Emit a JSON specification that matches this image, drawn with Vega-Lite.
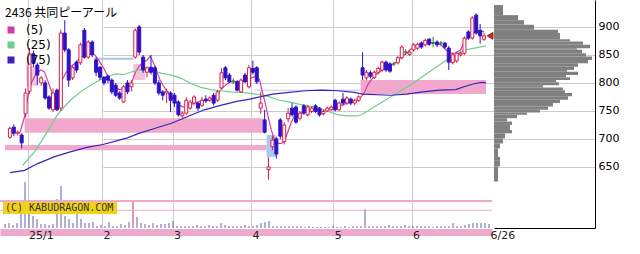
{
  "$schema": "https://vega.github.io/schema/vega-lite/v6.json",
  "width": 595,
  "height": 228,
  "autosize": {"type": "none"},
  "padding": {"left": 0, "top": 0, "right": 45, "bottom": 26},
  "background": "#ffffff",
  "config": {
    "view": {"stroke": null},
    "axis": {"labelFont": "DejaVu Sans", "labelFontSize": 11, "labelColor": "#222222"},
    "legend": {
      "orient": "none", "legendX": 5, "legendY": 8, "padding": 0,
      "titleFont": "Noto Sans CJK JP", "titleFontSize": 12, "titleFontWeight": "normal", "titleColor": "#000000", "titlePadding": 4,
      "labelFont": "DejaVu Sans", "labelFontSize": 12, "labelColor": "#000000", "labelOffset": 9,
      "symbolType": "square", "symbolSize": 49, "rowPadding": 3, "symbolStrokeWidth": 0
    }
  },
  "datasets": {
    "k": [
      {"i":0,"o":703,"h":722,"l":700,"c":719,"v":80},
      {"i":1,"o":721,"h":726,"l":705,"c":710,"v":100},
      {"i":2,"o":710,"h":715,"l":706,"c":712,"v":60},
      {"i":3,"o":707,"h":710,"l":683,"c":693,"v":100},
      {"i":4,"o":745,"h":790,"l":738,"c":782,"v":280},
      {"i":5,"o":785,"h":862,"l":780,"c":852,"v":920},
      {"i":6,"o":852,"h":858,"l":828,"c":835,"v":280},
      {"i":7,"o":832,"h":836,"l":796,"c":814,"v":240},
      {"i":8,"o":800,"h":812,"l":795,"c":809,"v":180},
      {"i":9,"o":800,"h":805,"l":770,"c":773,"v":80},
      {"i":10,"o":775,"h":778,"l":752,"c":755,"v":80},
      {"i":11,"o":752,"h":790,"l":748,"c":782,"v":60},
      {"i":12,"o":787,"h":790,"l":750,"c":752,"v":80},
      {"i":13,"o":755,"h":895,"l":750,"c":889,"v":580},
      {"i":14,"o":889,"h":912,"l":855,"c":859,"v":840},
      {"i":15,"o":859,"h":862,"l":793,"c":805,"v":240},
      {"i":16,"o":809,"h":832,"l":805,"c":827,"v":180},
      {"i":17,"o":837,"h":840,"l":818,"c":823,"v":100},
      {"i":18,"o":836,"h":872,"l":832,"c":868,"v":280},
      {"i":19,"o":894,"h":898,"l":843,"c":846,"v":180},
      {"i":20,"o":846,"h":876,"l":843,"c":873,"v":100},
      {"i":21,"o":873,"h":876,"l":846,"c":850,"v":100},
      {"i":22,"o":841,"h":846,"l":812,"c":819,"v":120},
      {"i":23,"o":828,"h":830,"l":805,"c":810,"v":40},
      {"i":24,"o":810,"h":812,"l":796,"c":800,"v":60},
      {"i":25,"o":812,"h":815,"l":800,"c":805,"v":40},
      {"i":26,"o":805,"h":808,"l":780,"c":784,"v":120},
      {"i":27,"o":796,"h":800,"l":775,"c":778,"v":40},
      {"i":28,"o":782,"h":785,"l":770,"c":773,"v":40},
      {"i":29,"o":766,"h":796,"l":764,"c":793,"v":80},
      {"i":30,"o":800,"h":805,"l":780,"c":784,"v":60},
      {"i":31,"o":793,"h":805,"l":785,"c":800,"v":120},
      {"i":32,"o":846,"h":897,"l":843,"c":894,"v":520},
      {"i":33,"o":900,"h":903,"l":850,"c":855,"v":220},
      {"i":34,"o":846,"h":850,"l":818,"c":823,"v":100},
      {"i":35,"o":819,"h":830,"l":810,"c":827,"v":80},
      {"i":36,"o":828,"h":850,"l":815,"c":819,"v":60},
      {"i":37,"o":827,"h":830,"l":796,"c":800,"v":100},
      {"i":38,"o":800,"h":805,"l":778,"c":782,"v":60},
      {"i":39,"o":784,"h":787,"l":769,"c":778,"v":80},
      {"i":40,"o":782,"h":790,"l":764,"c":785,"v":80},
      {"i":41,"o":782,"h":785,"l":748,"c":769,"v":100},
      {"i":42,"o":778,"h":782,"l":757,"c":764,"v":140},
      {"i":43,"o":766,"h":769,"l":740,"c":743,"v":40},
      {"i":44,"o":741,"h":749,"l":735,"c":746,"v":40},
      {"i":45,"o":746,"h":775,"l":743,"c":769,"v":40},
      {"i":46,"o":755,"h":770,"l":752,"c":766,"v":40},
      {"i":47,"o":764,"h":778,"l":760,"c":775,"v":40},
      {"i":48,"o":764,"h":766,"l":750,"c":755,"v":60},
      {"i":49,"o":760,"h":775,"l":757,"c":769,"v":40},
      {"i":50,"o":771,"h":778,"l":764,"c":768,"v":40},
      {"i":51,"o":769,"h":776,"l":766,"c":773,"v":60},
      {"i":52,"o":778,"h":782,"l":760,"c":764,"v":40},
      {"i":53,"o":769,"h":787,"l":766,"c":784,"v":40},
      {"i":54,"o":791,"h":826,"l":789,"c":818,"v":100},
      {"i":55,"o":827,"h":830,"l":805,"c":809,"v":60},
      {"i":56,"o":814,"h":818,"l":800,"c":802,"v":40},
      {"i":57,"o":803,"h":808,"l":798,"c":803,"v":40},
      {"i":58,"o":802,"h":805,"l":785,"c":787,"v":40},
      {"i":59,"o":784,"h":808,"l":782,"c":805,"v":40},
      {"i":60,"o":814,"h":818,"l":800,"c":802,"v":60},
      {"i":61,"o":793,"h":832,"l":790,"c":827,"v":40},
      {"i":62,"o":826,"h":840,"l":815,"c":819,"v":40},
      {"i":63,"o":827,"h":830,"l":798,"c":802,"v":60},
      {"i":64,"o":755,"h":784,"l":745,"c":764,"v":100},
      {"i":65,"o":734,"h":752,"l":710,"c":712,"v":120},
      {"i":66,"o":645,"h":668,"l":627,"c":650,"v":140},
      {"i":67,"o":686,"h":705,"l":680,"c":698,"v":40},
      {"i":68,"o":700,"h":703,"l":665,"c":673,"v":40},
      {"i":69,"o":734,"h":737,"l":700,"c":705,"v":40},
      {"i":70,"o":695,"h":730,"l":690,"c":725,"v":40},
      {"i":71,"o":736,"h":755,"l":730,"c":746,"v":40},
      {"i":72,"o":755,"h":764,"l":740,"c":743,"v":40},
      {"i":73,"o":757,"h":760,"l":727,"c":730,"v":40},
      {"i":74,"o":737,"h":750,"l":733,"c":746,"v":40},
      {"i":75,"o":759,"h":762,"l":743,"c":746,"v":20},
      {"i":76,"o":743,"h":760,"l":740,"c":757,"v":40},
      {"i":77,"o":749,"h":758,"l":746,"c":755,"v":20},
      {"i":78,"o":759,"h":762,"l":746,"c":749,"v":20},
      {"i":79,"o":755,"h":757,"l":740,"c":743,"v":20},
      {"i":80,"o":745,"h":752,"l":742,"c":749,"v":20},
      {"i":81,"o":750,"h":758,"l":748,"c":755,"v":20},
      {"i":82,"o":752,"h":760,"l":750,"c":757,"v":40},
      {"i":83,"o":769,"h":772,"l":749,"c":752,"v":20},
      {"i":84,"o":752,"h":767,"l":750,"c":764,"v":20},
      {"i":85,"o":771,"h":782,"l":760,"c":764,"v":40},
      {"i":86,"o":764,"h":776,"l":761,"c":773,"v":20},
      {"i":87,"o":771,"h":774,"l":760,"c":764,"v":40},
      {"i":88,"o":764,"h":772,"l":760,"c":769,"v":40},
      {"i":89,"o":769,"h":778,"l":766,"c":775,"v":40},
      {"i":90,"o":827,"h":855,"l":805,"c":814,"v":380},
      {"i":91,"o":809,"h":823,"l":805,"c":819,"v":40},
      {"i":92,"o":818,"h":822,"l":808,"c":812,"v":40},
      {"i":93,"o":810,"h":822,"l":807,"c":819,"v":40},
      {"i":94,"o":819,"h":829,"l":815,"c":826,"v":40},
      {"i":95,"o":823,"h":840,"l":820,"c":837,"v":40},
      {"i":96,"o":837,"h":840,"l":820,"c":823,"v":60},
      {"i":97,"o":834,"h":837,"l":818,"c":821,"v":40},
      {"i":98,"o":834,"h":838,"l":830,"c":834,"v":40},
      {"i":99,"o":836,"h":848,"l":833,"c":845,"v":40},
      {"i":100,"o":845,"h":867,"l":842,"c":864,"v":60},
      {"i":101,"o":855,"h":860,"l":850,"c":855,"v":40},
      {"i":102,"o":851,"h":858,"l":848,"c":855,"v":40},
      {"i":103,"o":859,"h":871,"l":856,"c":868,"v":40},
      {"i":104,"o":862,"h":872,"l":859,"c":869,"v":40},
      {"i":105,"o":871,"h":874,"l":861,"c":864,"v":40},
      {"i":106,"o":868,"h":879,"l":865,"c":876,"v":40},
      {"i":107,"o":878,"h":880,"l":866,"c":869,"v":20},
      {"i":108,"o":871,"h":882,"l":864,"c":871,"v":40},
      {"i":109,"o":873,"h":876,"l":864,"c":868,"v":40},
      {"i":110,"o":871,"h":875,"l":866,"c":871,"v":40},
      {"i":111,"o":871,"h":873,"l":861,"c":864,"v":40},
      {"i":112,"o":862,"h":866,"l":823,"c":837,"v":100},
      {"i":113,"o":836,"h":853,"l":833,"c":850,"v":40},
      {"i":114,"o":839,"h":856,"l":836,"c":853,"v":40},
      {"i":115,"o":850,"h":856,"l":847,"c":853,"v":60},
      {"i":116,"o":853,"h":883,"l":850,"c":880,"v":80},
      {"i":117,"o":891,"h":894,"l":877,"c":880,"v":100},
      {"i":118,"o":880,"h":919,"l":877,"c":916,"v":100},
      {"i":119,"o":921,"h":924,"l":886,"c":889,"v":100},
      {"i":120,"o":894,"h":905,"l":870,"c":884,"v":100},
      {"i":121,"o":878,"h":889,"l":875,"c":884,"v":80}
    ],
    "ma": [
      {"ma":"(5)","i":2.5,"v":710},{"ma":"(5)","i":3.75,"v":740},{"ma":"(5)","i":4.6,"v":775},{"ma":"(5)","i":5.4,"v":799},{"ma":"(5)","i":6.7,"v":817},{"ma":"(5)","i":7.9,"v":823},{"ma":"(5)","i":8.75,"v":820},{"ma":"(5)","i":9.6,"v":805},{"ma":"(5)","i":10.8,"v":781},{"ma":"(5)","i":11.7,"v":775},{"ma":"(5)","i":12.5,"v":787},{"ma":"(5)","i":13.3,"v":805},{"ma":"(5)","i":14.2,"v":817},{"ma":"(5)","i":15.4,"v":829},{"ma":"(5)","i":16.7,"v":835},{"ma":"(5)","i":17.9,"v":844},{"ma":"(5)","i":19.2,"v":850},{"ma":"(5)","i":20.4,"v":853},{"ma":"(5)","i":21.7,"v":850},{"ma":"(5)","i":22.9,"v":838},{"ma":"(5)","i":24.2,"v":823},{"ma":"(5)","i":25.4,"v":805},{"ma":"(5)","i":26.7,"v":793},{"ma":"(5)","i":27.9,"v":788},{"ma":"(5)","i":29.2,"v":790},{"ma":"(5)","i":30.8,"v":796},{"ma":"(5)","i":32.1,"v":820},{"ma":"(5)","i":32.9,"v":829},{"ma":"(5)","i":33.75,"v":835},{"ma":"(5)","i":35,"v":841},{"ma":"(5)","i":35.8,"v":848},{"ma":"(5)","i":37.1,"v":829},{"ma":"(5)","i":38.3,"v":805},{"ma":"(5)","i":39.6,"v":790},{"ma":"(5)","i":40.8,"v":778},{"ma":"(5)","i":42.1,"v":769},{"ma":"(5)","i":43.3,"v":760},{"ma":"(5)","i":44.2,"v":757},{"ma":"(5)","i":45.4,"v":760},{"ma":"(5)","i":46.7,"v":763},{"ma":"(5)","i":47.9,"v":766},{"ma":"(5)","i":49.2,"v":769},{"ma":"(5)","i":50.4,"v":769},{"ma":"(5)","i":51.75,"v":772},{"ma":"(5)","i":53,"v":778},{"ma":"(5)","i":53.75,"v":787},{"ma":"(5)","i":55,"v":796},{"ma":"(5)","i":56.25,"v":802},{"ma":"(5)","i":57.5,"v":802},{"ma":"(5)","i":58.75,"v":803},{"ma":"(5)","i":60,"v":805},{"ma":"(5)","i":61.25,"v":808},{"ma":"(5)","i":62.9,"v":812},{"ma":"(5)","i":63.75,"v":805},{"ma":"(5)","i":64.2,"v":790},{"ma":"(5)","i":65,"v":769},{"ma":"(5)","i":65.8,"v":743},{"ma":"(5)","i":66.7,"v":716},{"ma":"(5)","i":67.5,"v":698},{"ma":"(5)","i":68.3,"v":692},{"ma":"(5)","i":69.2,"v":692},{"ma":"(5)","i":70,"v":695},{"ma":"(5)","i":70.8,"v":710},{"ma":"(5)","i":71.7,"v":728},{"ma":"(5)","i":72.5,"v":740},{"ma":"(5)","i":73.3,"v":743},{"ma":"(5)","i":74.6,"v":747},{"ma":"(5)","i":75.8,"v":752},{"ma":"(5)","i":77.1,"v":752},{"ma":"(5)","i":78.3,"v":752},{"ma":"(5)","i":79.6,"v":749},{"ma":"(5)","i":80.8,"v":752},{"ma":"(5)","i":82.1,"v":755},{"ma":"(5)","i":83.3,"v":758},{"ma":"(5)","i":84.6,"v":760},{"ma":"(5)","i":85.8,"v":763},{"ma":"(5)","i":87.1,"v":766},{"ma":"(5)","i":88.3,"v":768},{"ma":"(5)","i":89.6,"v":775},{"ma":"(5)","i":90.4,"v":782},{"ma":"(5)","i":91.25,"v":796},{"ma":"(5)","i":92.5,"v":808},{"ma":"(5)","i":93.75,"v":817},{"ma":"(5)","i":95,"v":823},{"ma":"(5)","i":96.25,"v":829},{"ma":"(5)","i":97.5,"v":832},{"ma":"(5)","i":98.75,"v":838},{"ma":"(5)","i":100,"v":847},{"ma":"(5)","i":101.25,"v":853},{"ma":"(5)","i":102.5,"v":862},{"ma":"(5)","i":103.75,"v":866},{"ma":"(5)","i":105,"v":871},{"ma":"(5)","i":106.25,"v":872},{"ma":"(5)","i":107.5,"v":872},{"ma":"(5)","i":108.75,"v":871},{"ma":"(5)","i":110,"v":868},{"ma":"(5)","i":111.25,"v":859},{"ma":"(5)","i":112.5,"v":853},{"ma":"(5)","i":113.75,"v":853},{"ma":"(5)","i":115,"v":859},{"ma":"(5)","i":116.25,"v":877},{"ma":"(5)","i":117.5,"v":886},{"ma":"(5)","i":118.75,"v":891},{"ma":"(5)","i":120,"v":893},{"ma":"(5)","i":121,"v":891},
      {"ma":"(25)","i":3.3,"v":653},{"ma":"(25)","i":6.25,"v":677},{"ma":"(25)","i":9.6,"v":713},{"ma":"(25)","i":12.1,"v":743},{"ma":"(25)","i":15.4,"v":769},{"ma":"(25)","i":18.75,"v":788},{"ma":"(25)","i":22.1,"v":802},{"ma":"(25)","i":24.6,"v":811},{"ma":"(25)","i":27.1,"v":816},{"ma":"(25)","i":29,"v":815},{"ma":"(25)","i":31.25,"v":820},{"ma":"(25)","i":33.75,"v":824},{"ma":"(25)","i":36.25,"v":822},{"ma":"(25)","i":38.75,"v":817},{"ma":"(25)","i":41.25,"v":814},{"ma":"(25)","i":43.75,"v":808},{"ma":"(25)","i":46.25,"v":799},{"ma":"(25)","i":48.75,"v":792},{"ma":"(25)","i":51.25,"v":788},{"ma":"(25)","i":53.75,"v":786},{"ma":"(25)","i":56.25,"v":784},{"ma":"(25)","i":58.75,"v":783},{"ma":"(25)","i":62,"v":781},{"ma":"(25)","i":64.6,"v":778},{"ma":"(25)","i":66.25,"v":775},{"ma":"(25)","i":68.75,"v":769},{"ma":"(25)","i":71.25,"v":766},{"ma":"(25)","i":73.75,"v":762},{"ma":"(25)","i":76.25,"v":759},{"ma":"(25)","i":78.75,"v":755},{"ma":"(25)","i":81.25,"v":749},{"ma":"(25)","i":83.75,"v":743},{"ma":"(25)","i":86.25,"v":741},{"ma":"(25)","i":88.75,"v":741},{"ma":"(25)","i":90,"v":744},{"ma":"(25)","i":92.9,"v":757},{"ma":"(25)","i":97.1,"v":775},{"ma":"(25)","i":102.1,"v":796},{"ma":"(25)","i":107.1,"v":820},{"ma":"(25)","i":112.1,"v":844},{"ma":"(25)","i":116.25,"v":859},{"ma":"(25)","i":121.5,"v":866},
      {"ma":"(75)","i":0,"v":640},{"ma":"(75)","i":3.75,"v":644},{"ma":"(75)","i":7.1,"v":656},{"ma":"(75)","i":11.25,"v":668},{"ma":"(75)","i":15.4,"v":677},{"ma":"(75)","i":19.6,"v":685},{"ma":"(75)","i":23.75,"v":690},{"ma":"(75)","i":27.9,"v":698},{"ma":"(75)","i":30,"v":702},{"ma":"(75)","i":32.9,"v":710},{"ma":"(75)","i":37.1,"v":719},{"ma":"(75)","i":41.25,"v":728},{"ma":"(75)","i":45.4,"v":740},{"ma":"(75)","i":49.6,"v":752},{"ma":"(75)","i":53.75,"v":760},{"ma":"(75)","i":57.9,"v":767},{"ma":"(75)","i":61.25,"v":771},{"ma":"(75)","i":63.75,"v":775},{"ma":"(75)","i":67.1,"v":780},{"ma":"(75)","i":71.25,"v":783},{"ma":"(75)","i":75.4,"v":786},{"ma":"(75)","i":79.6,"v":787},{"ma":"(75)","i":83.75,"v":786},{"ma":"(75)","i":87.9,"v":783},{"ma":"(75)","i":90,"v":780},{"ma":"(75)","i":97.1,"v":778},{"ma":"(75)","i":101.25,"v":780},{"ma":"(75)","i":105.4,"v":784},{"ma":"(75)","i":109.6,"v":787},{"ma":"(75)","i":113.75,"v":788},{"ma":"(75)","i":116.25,"v":794},{"ma":"(75)","i":118.75,"v":799},{"ma":"(75)","i":120.4,"v":801},{"ma":"(75)","i":121.5,"v":800}
    ],
    "zones": [
      {"x0":3.75,"x1":64.5,"p0":711,"p1":737,"k":"pink"},
      {"x0":-1.25,"x1":65.5,"p0":680,"p1":689,"k":"pink"},
      {"x0":89.5,"x1":121.5,"p0":780,"p1":805,"k":"pink"},
      {"x0":4.25,"x1":7,"p0":795,"p1":829,"k":"light"},
      {"x0":31.5,"x1":34.5,"p0":805,"p1":834,"k":"light"},
      {"x0":65.5,"x1":68,"p0":668,"p1":707,"k":"blue"}
    ],
    "prof": [
      {"lo":921,"hi":939,"len":9},{"lo":912,"hi":921,"len":24},{"lo":904,"hi":912,"len":30},{"lo":895,"hi":904,"len":40},
      {"lo":889,"hi":895,"len":64},{"lo":878,"hi":889,"len":66},{"lo":874,"hi":878,"len":76},{"lo":868,"hi":874,"len":89},
      {"lo":862,"hi":868,"len":96},{"lo":859,"hi":862,"len":83},{"lo":853,"hi":859,"len":88},{"lo":847,"hi":853,"len":92},
      {"lo":841,"hi":847,"len":98},{"lo":835,"hi":841,"len":94},{"lo":829,"hi":835,"len":84},{"lo":823,"hi":829,"len":80},
      {"lo":820,"hi":823,"len":73},{"lo":814,"hi":820,"len":84},{"lo":810,"hi":814,"len":72},{"lo":805,"hi":810,"len":76},
      {"lo":801,"hi":805,"len":62},{"lo":796,"hi":801,"len":65},{"lo":792,"hi":796,"len":49},{"lo":787,"hi":792,"len":69},
      {"lo":782,"hi":787,"len":71},{"lo":776,"hi":782,"len":78},{"lo":770,"hi":776,"len":74},{"lo":764,"hi":770,"len":66},
      {"lo":758,"hi":764,"len":59},{"lo":752,"hi":758,"len":54},{"lo":747,"hi":752,"len":46},{"lo":743,"hi":747,"len":33},
      {"lo":737,"hi":743,"len":23},{"lo":731,"hi":737,"len":13},{"lo":725,"hi":731,"len":18},{"lo":716,"hi":725,"len":16},
      {"lo":710,"hi":716,"len":18},{"lo":701,"hi":710,"len":11},{"lo":692,"hi":701,"len":9},{"lo":683,"hi":692,"len":6},
      {"lo":668,"hi":683,"len":4},{"lo":662,"hi":668,"len":6},{"lo":651,"hi":662,"len":6},{"lo":624,"hi":651,"len":4}
    ]
  },
  "layer": [
    {
      "layer": [
        {
          "data": {"name": "k"},
          "mark": {"type": "rule", "strokeWidth": 1},
          "encoding": {
            "x": {"field": "i", "type": "quantitative", "scale": {"domain": [-1.25, 121.75], "range": [0, 492], "nice": false, "zero": false},
              "axis": {"title": null, "orient": "bottom", "values": [4.5], "labels": false, "ticks": false, "tickSize": 0, "grid": false,
                "domain": true, "domainColor": "#eeaacc", "domainWidth": 7, "offset": 4}},
            "y": {"field": "v", "type": "quantitative", "scale": {"domain": [0, 1000], "range": [228, 178], "nice": false, "zero": true}, "axis": null},
            "y2": {"datum": 0},
            "color": {"condition": {"test": "datum.i == 32", "value": "#c0305a"}, "value": "#6262aa"}
          }
        },
        {
          "data": {"values": [{"v": 540}]},
          "mark": {"type": "rule", "color": "#eeaacc", "strokeWidth": 2},
          "encoding": {
            "x": {"datum": -1.25, "type": "quantitative"},
            "x2": {"datum": 121.75},
            "y": {"field": "v", "type": "quantitative", "axis": null}
          }
        },
        {
          "data": {"values": [{"v": 354}]},
          "mark": {"type": "rule", "color": "#eeaacc", "strokeWidth": 1},
          "encoding": {
            "x": {"datum": -1.25, "type": "quantitative"},
            "x2": {"datum": 121.75},
            "y": {"field": "v", "type": "quantitative", "axis": null}
          }
        },
        {
          "data": {"values": [{"t": "(C) KABUDRAGON.COM"}]},
          "mark": {"type": "rect", "color": "#f0d21a"},
          "encoding": {
            "x": {"datum": -0.5, "type": "quantitative"},
            "x2": {"datum": 28},
            "y": {"datum": 280, "type": "quantitative", "axis": null},
            "y2": {"datum": 520}
          }
        },
        {
          "data": {"values": [{"t": "(C) KABUDRAGON.COM"}]},
          "mark": {"type": "text", "align": "left", "baseline": "middle", "font": "DejaVu Sans Mono", "fontSize": 10, "color": "#333333"},
          "encoding": {
            "x": {"datum": 0, "type": "quantitative"},
            "y": {"datum": 400, "type": "quantitative", "axis": null},
            "text": {"field": "t"}
          }
        }
      ]
    },
    {
      "layer": [
        {
          "data": {"name": "zones"},
          "mark": {"type": "rect"},
          "encoding": {
            "x": {"field": "x0", "type": "quantitative", "scale": {"domain": [-1.25, 121.75], "range": [0, 492], "nice": false, "zero": false},
              "axis": {"title": null, "orient": "bottom", "values": [4.5, 23.5, 41.5, 61.5, 82.5, 102.5, 122.25],
                "labelExpr": "datum.value < 10 ? '25/1' : datum.value < 30 ? '2' : datum.value < 50 ? '3' : datum.value < 70 ? '4' : datum.value < 90 ? '5' : datum.value < 110 ? '6' : '6/26'",
                "labelAlign": "left", "labelFlush": false, "labelOverlap": false, "labelBound": false, "labelOffset": 1,
                "labelBaseline": "alphabetic", "labelPadding": 6,
                "ticks": false, "tickSize": 0, "domain": false, "offset": 4,
                "grid": true, "gridColor": {"condition": {"test": "datum.value > 120", "value": "transparent"}, "value": "#cccccc"}}},
            "x2": {"field": "x1"},
            "y": {"field": "p0", "type": "quantitative", "scale": {"domain": [541, 948], "nice": false, "zero": false},
              "axis": {"title": null, "orient": "right", "values": [650, 700, 750, 800, 850, 900], "ticks": false, "tickSize": 0,
                "domain": true, "domainColor": "#000000", "grid": true, "gridColor": "#cccccc", "labelPadding": 3, "labelBaseline": "middle", "labelColor": "#000000"}},
            "y2": {"field": "p1"},
            "fill": {"field": "k", "type": "nominal", "scale": {"domain": ["pink", "light", "blue"], "range": ["#f2a8cc", "#f6c2da", "#aac8f2"]}, "legend": null}
          }
        },
        {
          "data": {"values": [{"x0": 21.5, "x1": 31.5, "p": 843}]},
          "mark": {"type": "rule", "color": "#a8c4f0", "strokeWidth": 2},
          "encoding": {
            "x": {"field": "x0", "type": "quantitative"},
            "x2": {"field": "x1"},
            "y": {"field": "p", "type": "quantitative"}
          }
        },
        {
          "data": {"values": [{"x0": 62.5, "x1": 89.5, "p": 787}]},
          "mark": {"type": "rule", "color": "#b4ccf2", "strokeWidth": 1},
          "encoding": {
            "x": {"field": "x0", "type": "quantitative"},
            "x2": {"field": "x1"},
            "y": {"field": "p", "type": "quantitative"}
          }
        },
        {
          "data": {"name": "ma"},
          "mark": {"type": "line", "strokeWidth": 1.2},
          "encoding": {
            "x": {"field": "i", "type": "quantitative"},
            "y": {"field": "v", "type": "quantitative"},
            "color": {"field": "ma", "type": "nominal", "scale": {"domain": ["(5)", "(25)", "(75)"], "range": ["#d23ca6", "#6fd08e", "#3b22b8"]},
              "legend": {"title": "2436 共同ピーアール",
                "encode": {"symbols": {"update": {"fill": {"scale": "color", "field": "value"}, "stroke": {"value": "transparent"}, "shape": {"value": "square"}}}}}}
          }
        },
        {
          "data": {"name": "k"},
          "mark": {"type": "rule", "strokeWidth": 1},
          "encoding": {
            "x": {"field": "i", "type": "quantitative"},
            "y": {"field": "l", "type": "quantitative"},
            "y2": {"field": "h"},
            "stroke": {"condition": [{"test": "datum.c > datum.o", "value": "#d81b4a"}, {"test": "datum.c == datum.o", "value": "#228822"}], "value": "#2f12c8"}
          }
        },
        {
          "data": {"name": "k"},
          "mark": {"type": "bar", "size": 3, "strokeWidth": 1},
          "encoding": {
            "x": {"field": "i", "type": "quantitative"},
            "y": {"field": "o", "type": "quantitative"},
            "y2": {"field": "c"},
            "fill": {"condition": [{"test": "datum.c > datum.o", "value": "#ffffff"}, {"test": "datum.c == datum.o", "value": "#228822"}], "value": "#2f12c8"},
            "stroke": {"condition": [{"test": "datum.c > datum.o", "value": "#d81b4a"}, {"test": "datum.c == datum.o", "value": "#228822"}], "value": "#2f12c8"}
          }
        },
        {
          "data": {"name": "k"},
          "transform": [{"filter": "datum.i == 121"}],
          "mark": {"type": "point", "shape": "triangle-left", "filled": true, "size": 45, "xOffset": 6, "fill": "#e02a10", "stroke": "#7a0000", "strokeWidth": 0.8, "opacity": 1},
          "encoding": {
            "x": {"field": "i", "type": "quantitative"},
            "y": {"field": "c", "type": "quantitative"}
          }
        }
      ]
    },
    {
      "data": {"name": "prof"},
      "mark": {"type": "rect", "color": "#808080"},
      "encoding": {
        "x": {"field": "len", "type": "quantitative", "scale": {"domain": [0, 101], "range": [494, 595], "nice": false, "zero": true},
          "axis": {"title": null, "orient": "bottom", "domain": true, "domainColor": "#000000", "labels": false, "ticks": false, "grid": false}},
        "x2": {"datum": 0},
        "y": {"field": "lo", "type": "quantitative", "scale": {"domain": [541, 948], "nice": false, "zero": false}, "axis": null},
        "y2": {"field": "hi"}
      }
    }
  ],
  "resolve": {"scale": {"x": "independent", "y": "independent"}, "axis": {"x": "independent", "y": "independent"}}
}
